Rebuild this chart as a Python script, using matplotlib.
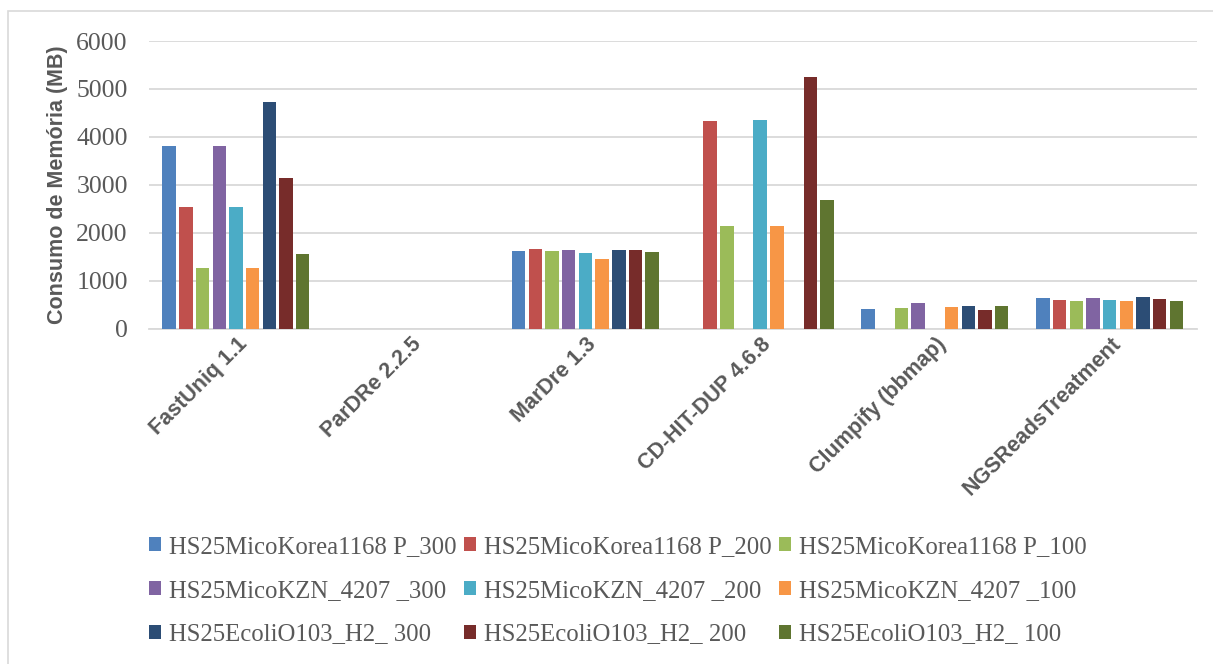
import numpy as np
import matplotlib.pyplot as plt
import matplotlib.transforms as mtransforms
from matplotlib.patches import Rectangle

categories = ['FastUniq 1.1', 'ParDRe 2.2.5', 'MarDre 1.3', 'CD-HIT-DUP 4.6.8',
              'Clumpify (bbmap)', 'NGSReadsTreatment']

series_names = ['HS25MicoKorea1168 P_300', 'HS25MicoKorea1168 P_200', 'HS25MicoKorea1168 P_100',
                'HS25MicoKZN_4207 _300', 'HS25MicoKZN_4207 _200', 'HS25MicoKZN_4207 _100',
                'HS25EcoliO103_H2_ 300', 'HS25EcoliO103_H2_ 200', 'HS25EcoliO103_H2_ 100']

korea_300 = [3800, 0, 1610, 0, 410, 640]
korea_200 = [2530, 0, 1650, 4330, 0, 605]
korea_100 = [1260, 0, 1610, 2130, 420, 565]
kzn_300 = [3810, 0, 1640, 0, 525, 640]
kzn_200 = [2540, 0, 1585, 4350, 0, 605]
kzn_100 = [1260, 0, 1445, 2145, 445, 565]
ecoli_300 = [4730, 0, 1640, 0, 470, 665]
ecoli_200 = [3145, 0, 1640, 5255, 380, 620]
ecoli_100 = [1565, 0, 1600, 2680, 460, 575]

values = [korea_300, korea_200, korea_100, kzn_300, kzn_200, kzn_100,
          ecoli_300, ecoli_200, ecoli_100]

colors = ['#4F81BD', '#C0504D', '#9BBB59', '#8064A2', '#4BACC6', '#F79646',
          '#2C4D75', '#772C2A', '#5F7530']

text_color = '#595959'
grid_color = '#d9d9d9'

fig = plt.figure(figsize=(12.13, 6.64), dpi=100)
ax = fig.add_axes([148.6 / 1213, 1 - 328.5 / 664, (1197 - 148.6) / 1213, (328.5 - 41) / 664])

# outer chart border
fig.patches.append(Rectangle((7.5 / 1213, -0.1), 1.2, 1 - 11 / 664 + 0.1,
                             transform=fig.transFigure, fill=False,
                             edgecolor=grid_color, linewidth=1.2))

x = np.arange(len(categories))
step = 0.0955
bar_w = 0.077
for i, (vals, c, name) in enumerate(zip(values, colors, series_names)):
    ax.bar(x + (i - 4) * step, vals, width=bar_w, color=c, label=name, zorder=3)

ax.set_xlim(-0.5, len(categories) - 0.5)
ax.set_ylim(0, 6000)
ax.set_yticks(range(0, 6001, 1000))
ax.yaxis.grid(True, color=grid_color, linewidth=1.3, zorder=0)
for s in ['top', 'right', 'left']:
    ax.spines[s].set_visible(False)
ax.spines['bottom'].set_color(grid_color)
ax.spines['bottom'].set_linewidth(1.3)
ax.tick_params(axis='both', length=0)
ax.tick_params(axis='y', pad=15, labelcolor=text_color)
for lab in ax.get_yticklabels():
    lab.set_family('Liberation Serif')
    lab.set_fontsize(18.5)

ax.set_xticks(x)
ax.set_xticklabels(categories, rotation=45, ha='right', va='center',
                   rotation_mode='anchor', fontsize=15.5, fontweight='bold',
                   color=text_color, family='Liberation Sans')
ax.tick_params(axis='x', pad=9)
shift = mtransforms.ScaledTranslation(8 / 100, 0, fig.dpi_scale_trans)
for lab in ax.get_xticklabels():
    lab.set_transform(lab.get_transform() + shift)

fig.text(57 / 1213, 1 - 185 / 664, 'Consumo de Memória (MB)', rotation=90,
         ha='center', va='center', fontsize=15.5, fontweight='bold',
         color=text_color, family='Liberation Sans')

handles, labels = ax.get_legend_handles_labels()
order = [0, 3, 6, 1, 4, 7, 2, 5, 8]
leg = fig.legend([handles[k] for k in order], [labels[k] for k in order],
                 ncol=3, loc='upper left', bbox_to_anchor=(149 / 1213, 1 - 536 / 664),
                 frameon=False, borderpad=0, borderaxespad=0,
                 handlelength=0.5, handleheight=0.5, handletextpad=0.3,
                 columnspacing=0.3, labelspacing=0.88,
                 prop={'family': 'Liberation Serif', 'size': 17.8})
for t in leg.get_texts():
    t.set_color(text_color)

fig.savefig('out.png', dpi=100)
